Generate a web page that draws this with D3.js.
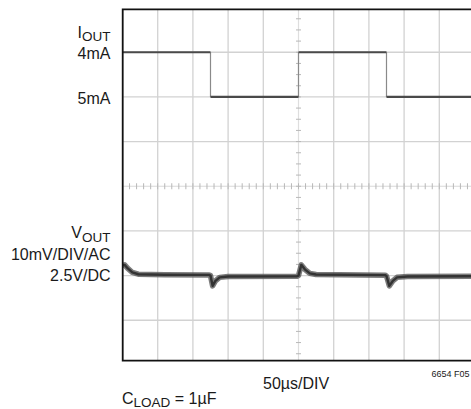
<!DOCTYPE html>
<html>
<head>
<meta charset="utf-8">
<script src="https://cdn.jsdelivr.net/npm/d3@7"></script>
<style>
  body { margin: 0; background: #fff; }
  svg { display: block; }
</style>
</head>
<body>
<svg id="chart"></svg>
<script>
"use strict";

// time axis in divisions (50µs/DIV)
const ioutTimes = [0, 2.5, 5, 7.5, 10];
const ioutLevels = [4, 5, 4, 5]; // mA, held from each step time to the next

// output voltage, AC coupled, mV
const voutTimes = [0, 0.06, 0.15, 0.28, 0.45, 1.2, 2.46, 2.5, 2.56, 2.64, 2.76, 3.0, 4.96,
                   5.0, 5.08, 5.18, 5.32, 5.5, 7.46, 7.5, 7.58, 7.68, 7.8, 8.1, 10];
const voutValues = [2.3, 2.4, 1.6, 0.7, 0.3, 0.2, 0.15, 0.0, -2.3, -1.2, -0.4, -0.2, -0.15,
                    0.0, 2.4, 1.4, 0.5, 0.25, 0.1, -0.1, -2.3, -1.2, -0.4, -0.2, -0.15];

const xDivs = d3.range(0, 11);
const yDivs = d3.range(0, 9);

const labels = [
    { main: "I", sub: "OUT", y: 37.5 },
    { main: "4mA", y: 59.3 },
    { main: "5mA", y: 104 },
    { main: "V", sub: "OUT", y: 238 },
    { main: "10mV/DIV/AC", y: 260 },
    { main: "2.5V/DC", y: 281 }
];

const width = 471;
const height = 409;
const font = "'Liberation Sans', Arial, sans-serif";

const svg = d3.select("#chart")
    .attr("width", width)
    .attr("height", height)
    .attr("viewBox", [0, 0, width, height]);

// scope screen
const frame = { left: 122.7, top: 9.3, bottom: 360.7, right: 474.5 };

const x = d3.scaleLinear().domain([0, 10]).range([122.5, 474.5]);
const yGrid = d3.scaleLinear().domain([0, 8]).range([7.6, 364.9]);
const yIout = d3.scaleLinear().domain([4, 5]).range([yGrid(1), yGrid(2)]);
const yVout = d3.scaleLinear().domain([0, 10]).range([yGrid(6), yGrid(5)]); // 10mV/DIV

svg.append("clipPath").attr("id", "screen")
    .append("rect")
    .attr("x", frame.left)
    .attr("y", frame.top)
    .attr("width", frame.right - frame.left)
    .attr("height", frame.bottom - frame.top);

const screen = svg.append("g").attr("clip-path", "url(#screen)");

// grid
screen.append("g")
    .attr("stroke", "#d2d2d2")
    .attr("stroke-width", 1.3)
    .selectAll("line")
    .data(xDivs.filter(d => d !== 5))
    .join("line")
    .attr("x1", d => x(d)).attr("x2", d => x(d))
    .attr("y1", frame.top).attr("y2", frame.bottom);

screen.append("g")
    .attr("stroke", "#d2d2d2")
    .attr("stroke-width", 1.3)
    .selectAll("line")
    .data(yDivs.filter(d => d !== 4))
    .join("line")
    .attr("x1", frame.left).attr("x2", frame.right)
    .attr("y1", d => yGrid(d)).attr("y2", d => yGrid(d));

// centre axes with minor ticks
const cx = x(5);
const cy = yGrid(4);

screen.append("line")
    .attr("x1", cx).attr("x2", cx)
    .attr("y1", frame.top).attr("y2", frame.bottom)
    .attr("stroke", "#dedede")
    .attr("stroke-width", 1.2);

screen.append("line")
    .attr("x1", frame.left).attr("x2", frame.right)
    .attr("y1", cy).attr("y2", cy)
    .attr("stroke", "#d8d8d8")
    .attr("stroke-width", 1.2);

screen.append("g")
    .attr("stroke", "#b8b8b8")
    .attr("stroke-width", 1)
    .selectAll("line")
    .data(d3.range(0, 50).map(i => i / 5))
    .join("line")
    .attr("x1", d => x(d)).attr("x2", d => x(d))
    .attr("y1", cy - 3).attr("y2", cy + 3);

screen.append("g")
    .attr("stroke", "#b8b8b8")
    .attr("stroke-width", 1)
    .selectAll("line")
    .data(d3.range(0, 32).map(i => i / 4))
    .join("line")
    .attr("x1", cx - 2.5).attr("x2", cx + 2.5)
    .attr("y1", d => yGrid(d)).attr("y2", d => yGrid(d));

// IOUT trace: flat levels and thin edges
const ioutSegs = ioutLevels.map((v, i) => ({ t0: ioutTimes[i], t1: ioutTimes[i + 1], v: v }));

screen.append("g")
    .attr("stroke", "#8a8a8a")
    .attr("stroke-width", 1.2)
    .selectAll("line")
    .data(ioutSegs.slice(1))
    .join("line")
    .attr("x1", d => x(d.t0)).attr("x2", d => x(d.t0))
    .attr("y1", (d, i) => yIout(ioutSegs[i].v))
    .attr("y2", d => yIout(d.v));

screen.append("g")
    .attr("stroke", "#4a4a4a")
    .attr("stroke-width", 2.2)
    .selectAll("line")
    .data(ioutSegs)
    .join("line")
    .attr("x1", d => x(d.t0)).attr("x2", d => x(d.t1))
    .attr("y1", d => yIout(d.v)).attr("y2", d => yIout(d.v));

// VOUT trace (noisy band drawn as a thick stroke)
const voutData = voutTimes.map((t, i) => ({ t: t, v: voutValues[i] }));
const voutLine = d3.line()
    .x(d => x(d.t))
    .y(d => yVout(d.v));

screen.append("path")
    .attr("d", voutLine(voutData))
    .attr("fill", "none")
    .attr("stroke", "#5a5a5a")
    .attr("stroke-width", 5.5)
    .attr("stroke-linejoin", "round")
    .attr("opacity", 0.8);

screen.append("path")
    .attr("d", voutLine(voutData))
    .attr("fill", "none")
    .attr("stroke", "#333")
    .attr("stroke-width", 2.4)
    .attr("stroke-linejoin", "round");

// frame
svg.append("path")
    .attr("d", `M${frame.right},${frame.top}H${frame.left}V${frame.bottom}H${frame.right}`)
    .attr("fill", "none")
    .attr("stroke", "#111")
    .attr("stroke-width", 1.8);

// left labels
const labelG = svg.append("g")
    .attr("font-family", font)
    .attr("font-size", 16)
    .attr("fill", "#1a1a1a")
    .attr("text-anchor", "end");

labels.forEach(l => {
    const t = labelG.append("text")
        .attr("x", 110.5)
        .attr("y", l.y);
    t.append("tspan").text(l.main);
    if (l.sub) {
        t.append("tspan")
            .attr("dy", 3.5)
            .attr("font-size", 13.5)
            .text(l.sub);
    }
});

// bottom texts
const cload = svg.append("text")
    .attr("x", 122)
    .attr("y", 403.5)
    .attr("font-family", font)
    .attr("font-size", 16)
    .attr("fill", "#1a1a1a");
cload.append("tspan").text("C");
cload.append("tspan").attr("dy", 3.5).attr("font-size", 13.5).text("LOAD");
cload.append("tspan").attr("dy", -3.5).text(" = 1µF");

svg.append("text")
    .attr("x", 263)
    .attr("y", 389)
    .attr("font-family", font)
    .attr("font-size", 16)
    .attr("fill", "#1a1a1a")
    .text("50µs/DIV");

svg.append("text")
    .attr("x", 469.5)
    .attr("y", 376.5)
    .attr("text-anchor", "end")
    .attr("font-family", font)
    .attr("font-size", 9)
    .attr("fill", "#1a1a1a")
    .text("6654 F05");
</script>
</body>
</html>
